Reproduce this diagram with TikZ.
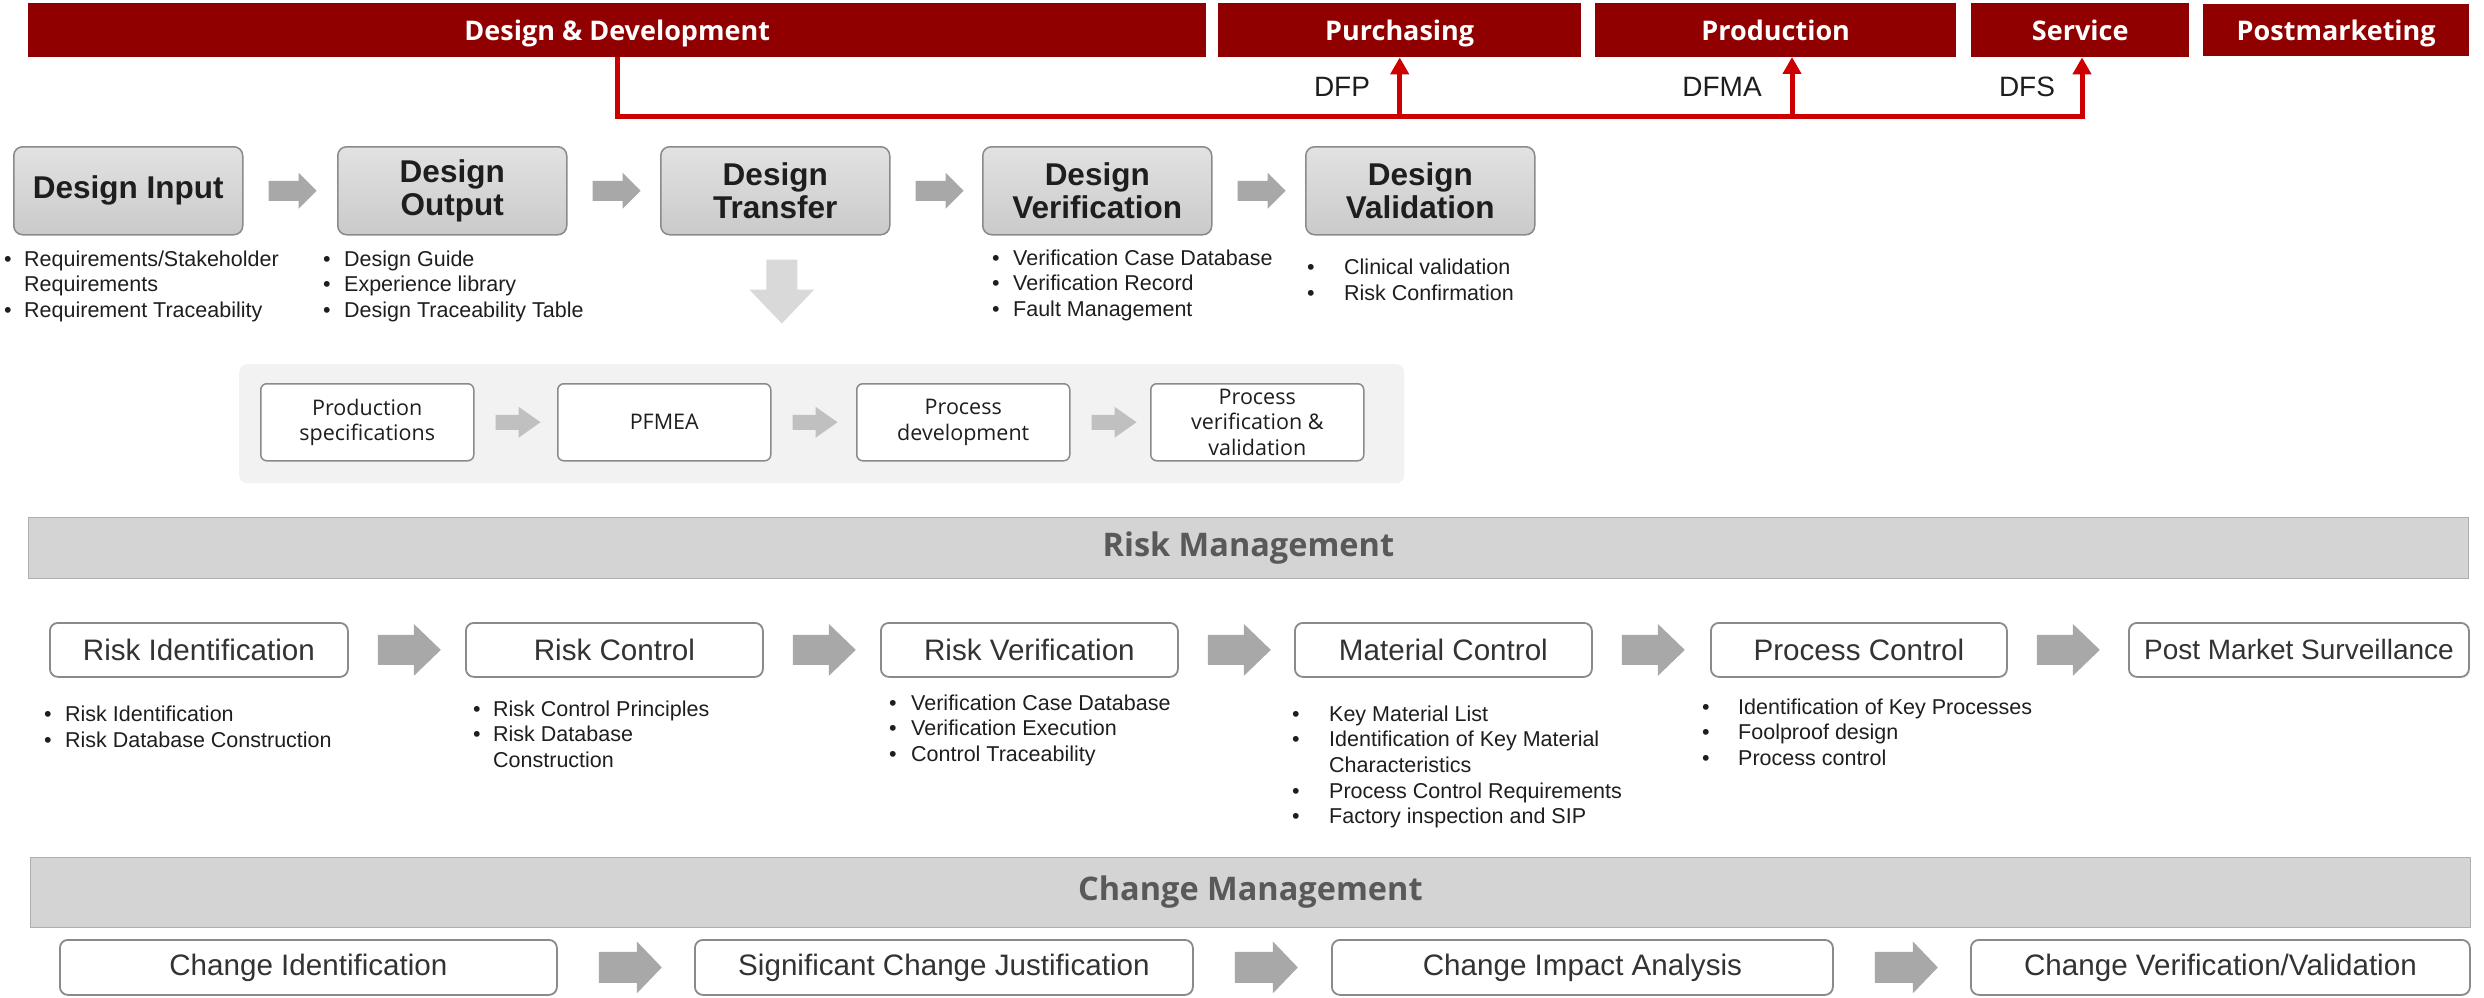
\documentclass[tikz,border=0pt]{standalone}
\usepackage{fontspec}
\setmainfont{Liberation Sans}
\newfontfamily\segoe{Open Sans}
\usetikzlibrary{calc,arrows.meta}
\definecolor{barred}{RGB}{144,0,0}
\definecolor{linered}{RGB}{204,0,0}
\definecolor{arrgray}{RGB}{168,168,168}
\definecolor{arrlight}{RGB}{192,192,192}
\definecolor{downgray}{RGB}{217,217,217}
\definecolor{panelgray}{RGB}{242,242,242}
\definecolor{bandgray}{RGB}{212,212,212}
\definecolor{bandline}{RGB}{175,175,175}
\definecolor{boxline}{RGB}{138,138,138}
\definecolor{txt}{RGB}{51,51,51}
\definecolor{dtxt}{RGB}{30,30,30}
\definecolor{mtitle}{RGB}{89,89,89}
\definecolor{dtop}{RGB}{226,226,226}
\definecolor{dbot}{RGB}{202,202,202}
\newcommand\bl[1]{\makebox[#1pt][l]{\textbullet}}
\newcommand\barr[6]{\fill[#6] #1 ++(0,#4) -- ++(#2,0) -- ++(0,#5-#4) -- ++(#3-#2,-#5) -- ++(-#3+#2,-#5) -- ++(0,#5-#4) -- ++(-#2,0) -- cycle;}
\tikzset{
  wh/.style 2 args={minimum width=#1pt, minimum height=#2pt},
  topbar/.style={fill=barred, text=white, font=\segoe\bfseries\fontsize{27}{30}\selectfont, inner sep=0, anchor=north west, text height=26pt, text depth=6pt},
  dbox/.style={draw=boxline, line width=1.5pt, rounded corners=9pt, top color=dtop, bottom color=dbot, text=dtxt, font=\bfseries\fontsize{31.5}{33}\selectfont, align=center, inner sep=0, anchor=north west, minimum width=229pt, minimum height=88pt},
  pbox/.style={draw=boxline, fill=white, line width=1.5pt, rounded corners=6pt, font=\segoe\fontsize{21.5}{25.5}\selectfont, text=dtxt, align=center, inner sep=0, anchor=north west, minimum width=213pt, minimum height=77pt},
  rbox/.style={draw=boxline, fill=white, line width=1.8pt, rounded corners=8pt, font=\fontsize{29.6}{32}\selectfont, text=txt, inner sep=0, anchor=north west},
  band/.style={fill=bandgray, draw=bandline, line width=0.8pt, inner sep=0, anchor=north west, font=\segoe\bfseries\fontsize{32.5}{36}\selectfont, text=mtitle},
  blist/.style={inner sep=0, anchor=base west, text=dtxt},
  redline/.style={draw=linered, line width=5pt},
  redtip/.style={-{Triangle[width=18pt,length=17pt]}},
  lbl/.style={font=\fontsize{28}{30}\selectfont, text=dtxt, inner sep=0}
}
\begin{document}
\begin{tikzpicture}[x=1pt,y=-1pt]
\useasboundingbox (0,0) rectangle (2484,998);
% top bars
\node[topbar, wh={1178}{54}] (dd) at (28,3) {Design \& Development};
\node[topbar, wh={363}{54}] (pur) at (1218,3) {Purchasing};
\node[topbar, wh={361}{54}] (prod) at (1595,3) {Production};
\node[topbar, wh={218}{54}] (serv) at (1971,3) {Service};
\node[topbar, wh={266}{52}] (post) at (2203,4) {Postmarketing};
% red connectors
\coordinate (rc) at (2082,116);
\draw[redline, redtip] (dd.south) |- (rc) -- (rc |- serv.south);
\draw[redline, redtip] (pur.south |- rc) -- (pur.south);
\draw[redline, redtip] (1792,116) -- (1792,57);
\node[lbl] (dfp) at (1342,87) {DFP};
\node[lbl] (dfma) at (1722,87) {DFMA};
\node[lbl] (dfs) at (2027,87) {DFS};
% design boxes
\node[dbox] (di) at (13,146) {Design Input};
\node[dbox] (do) at (337,146) {Design\\Output};
\node[dbox] (dt) at (660,146) {Design\\Transfer};
\node[dbox] (dv) at (982,146) {Design\\Verification};
\node[dbox] (dva) at (1305,146) {Design\\Validation};
\barr{($(di.east)+(25,0)$)}{30}{48}{10}{18}{arrgray}
\barr{($(do.east)+(25,0)$)}{30}{48}{10}{18}{arrgray}
\barr{($(dt.east)+(25,0)$)}{30}{48}{10}{18}{arrgray}
\barr{($(dv.east)+(25,0)$)}{30}{48}{10}{18}{arrgray}
% design lists
\node[blist, font=\fontsize{21.5}{25.5}\selectfont] (l1) at (4,266) {\begin{tabular}[t]{@{}l@{}l@{}}\bl{20}&Requirements/Stakeholder\\&Requirements\\\bl{20}&Requirement Traceability\end{tabular}};
\node[blist, font=\fontsize{21.5}{25.5}\selectfont] (l2) at (323,266) {\begin{tabular}[t]{@{}l@{}l@{}}\bl{21}&Design Guide\\\bl{21}&Experience library\\\bl{21}&Design Traceability Table\end{tabular}};
\node[blist, font=\fontsize{21.5}{25.5}\selectfont] (l3) at (992,265) {\begin{tabular}[t]{@{}l@{}l@{}}\bl{21}&Verification Case Database\\\bl{21}&Verification Record\\\bl{21}&Fault Management\end{tabular}};
\node[blist, font=\fontsize{21.5}{26}\selectfont] (l4) at (1307,274) {\begin{tabular}[t]{@{}l@{}l@{}}\bl{37}&Clinical validation\\\bl{37}&Risk Confirmation\end{tabular}};
% down arrow
\fill[downgray] ($(dt.south)+(-9,24)$) -- ++(31,0) -- ++(0,30) -- ++(17,0) -- ++(-32.5,34) -- ++(-32.5,-34) -- ++(17,0) -- cycle;
% process panel
\node[fill=panelgray, rounded corners=8pt, inner sep=0, anchor=north west, wh={1165}{119}] (panel) at (239,364) {};
\node[pbox] (ps) at (260,383) {Production\\specifications};
\node[pbox] (pf) at (557,383) {PFMEA};
\node[pbox] (pd) at (856,383) {Process\\development};
\node[pbox] (pv) at (1150,383) {Process\\verification \&\\validation};
\barr{($(ps.east)+(21,0)$)}{23}{45}{7.5}{15.5}{arrlight}
\barr{($(pf.east)+(21,0)$)}{23}{45}{7.5}{15.5}{arrlight}
\barr{($(pd.east)+(21,0)$)}{23}{45}{7.5}{15.5}{arrlight}
% risk management
\node[band, wh={2440}{61}] (rm) at (28,517) {Risk Management};
\node[rbox, wh={298}{54}] (ri) at (49,622) {Risk Identification};
\node[rbox, wh={297}{54}] (rco) at (465,622) {Risk Control};
\node[rbox, wh={297}{54}] (rv) at (880,622) {Risk Verification};
\node[rbox, wh={297}{54}] (mc) at (1294,622) {Material Control};
\node[rbox, wh={296}{54}] (pc) at (1710,622) {Process Control};
\node[rbox, wh={340}{54}, font=\fontsize{28}{32}\selectfont] (pm) at (2128,622) {Post Market Surveillance};
\barr{($(ri.east)+(29,0)$)}{36}{63}{15}{26}{arrgray}
\barr{($(rco.east)+(29,0)$)}{36}{63}{15}{26}{arrgray}
\barr{($(rv.east)+(29,0)$)}{36}{63}{15}{26}{arrgray}
\barr{($(mc.east)+(29,0)$)}{36}{63}{15}{26}{arrgray}
\barr{($(pc.east)+(29,0)$)}{36}{63}{15}{26}{arrgray}
% risk lists
\node[blist, font=\fontsize{21.5}{26.5}\selectfont] (l5) at (44,721) {\begin{tabular}[t]{@{}l@{}l@{}}\bl{21}&Risk Identification\\\bl{21}&Risk Database Construction\end{tabular}};
\node[blist, font=\fontsize{21.5}{25.5}\selectfont] (l6) at (473,716) {\begin{tabular}[t]{@{}l@{}l@{}}\bl{20}&Risk Control Principles\\\bl{20}&Risk Database\\&Construction\end{tabular}};
\node[blist, font=\fontsize{21.5}{25.5}\selectfont] (l7) at (889,710) {\begin{tabular}[t]{@{}l@{}l@{}}\bl{22}&Verification Case Database\\\bl{22}&Verification Execution\\\bl{22}&Control Traceability\end{tabular}};
\node[blist, font=\fontsize{21.5}{25.7}\selectfont] (l8) at (1292,721) {\begin{tabular}[t]{@{}l@{}l@{}}\bl{37}&Key Material List\\\bl{37}&Identification of Key Material\\&Characteristics\\\bl{37}&Process Control Requirements\\\bl{37}&Factory inspection and SIP\end{tabular}};
\node[blist, font=\fontsize{21.5}{25.5}\selectfont] (l9) at (1702,714) {\begin{tabular}[t]{@{}l@{}l@{}}\bl{36}&Identification of Key Processes\\\bl{36}&Foolproof design\\\bl{36}&Process control\end{tabular}};
% change management
\node[band, wh={2440}{70}] (cm) at (30,857) {Change Management};
\node[rbox, wh={497}{55}] (ci) at (59,939) {Change Identification};
\node[rbox, wh={498}{55}] (sc) at (694,939) {Significant Change Justification};
\node[rbox, wh={501}{55}] (ca) at (1331,939) {Change Impact Analysis};
\node[rbox, wh={499}{55}] (cv) at (1970,939) {Change Verification/Validation};
\barr{($(ci.east)+(41,0)$)}{38}{63}{15.5}{26}{arrgray}
\barr{($(sc.east)+(41,0)$)}{38}{63}{15.5}{26}{arrgray}
\barr{($(ca.east)+(41,0)$)}{38}{63}{15.5}{26}{arrgray}
\end{tikzpicture}
\end{document}
